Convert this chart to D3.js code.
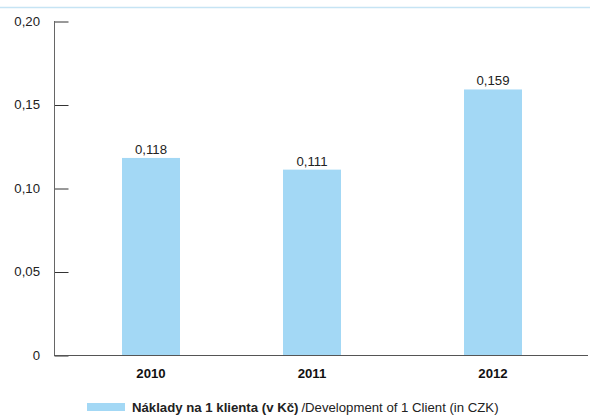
<!DOCTYPE html>
<html>
<head>
<meta charset="utf-8">
<script src="https://cdn.jsdelivr.net/npm/d3@7"></script>
<style>
  html, body { margin: 0; padding: 0; background: #fff; }
  svg { display: block; }
  svg text { font-family: "Liberation Sans", Arial, Helvetica, sans-serif; }
</style>
</head>
<body>
<svg id="chart" width="590" height="416"></svg>
<script>
// Cost per client by year
const years = ["2010", "2011", "2012"];
const costs = [0.118, 0.111, 0.159];
const yTicks = [0, 0.05, 0.10, 0.15, 0.20];
const legendBold = "Náklady na 1 klienta (v Kč)";
const legendNormal = "/Development of 1 Client (in CZK)";

const barColor = "#a3d8f5";
const fontSize = 13.2;
const svg = d3.select("#chart");
const fmt = v => v === 0 ? "0" : d3.format(".2f")(v).replace(".", ",");
const fmtVal = v => d3.format(".3f")(v).replace(".", ",");

// top rule
svg.append("line")
  .attr("x1", 0).attr("x2", 590).attr("y1", 7.5).attr("y2", 7.5)
  .attr("stroke", "#c6e4f4").attr("stroke-width", 1.5);

const y = d3.scaleLinear().domain([0, 0.20]).range([355, 21]);
// year columns sit at uneven spacing; piecewise scale gives each bar centre
const x = d3.scaleLinear().domain([2010, 2011, 2012]).range([151, 312, 493]);
const barW = 58;

// y axis: ticks drawn inward
const yAxis = svg.append("g").attr("transform", "translate(54.5,0.5)")
  .call(d3.axisRight(y).tickValues(yTicks).tickSize(14).tickFormat(""));
yAxis.select(".domain").remove();
yAxis.selectAll(".tick line").attr("stroke", "#333");
svg.append("line").attr("x1", 54.5).attr("x2", 54.5).attr("y1", 21).attr("y2", 355.5)
  .attr("stroke", "#666").attr("stroke-width", 1);

svg.append("g").selectAll("text").data(yTicks).join("text")
  .attr("x", 40).attr("y", d => y(d) + 4.5)
  .attr("text-anchor", "end").attr("font-size", fontSize).attr("fill", "#222")
  .text(fmt);

// bars
svg.append("g").selectAll("rect").data(costs).join("rect")
  .attr("x", (d, i) => x(+years[i]) - barW / 2)
  .attr("y", d => y(d))
  .attr("width", barW)
  .attr("height", d => y(0) - y(d))
  .attr("fill", barColor);

// value labels
svg.append("g").selectAll("text").data(costs).join("text")
  .attr("x", (d, i) => x(+years[i]))
  .attr("y", d => y(d) - 4)
  .attr("text-anchor", "middle").attr("font-size", fontSize).attr("fill", "#222")
  .text(fmtVal);

// x baseline
svg.append("line").attr("x1", 54).attr("x2", 588).attr("y1", 355.5).attr("y2", 355.5)
  .attr("stroke", "#555").attr("stroke-width", 1);

// x labels
svg.append("g").selectAll("text").data(years).join("text")
  .attr("x", d => x(+d)).attr("y", 378)
  .attr("text-anchor", "middle").attr("font-size", fontSize)
  .attr("font-weight", "bold").attr("fill", "#111")
  .text(d => d);

// legend
svg.append("rect").attr("x", 87).attr("y", 403).attr("width", 38).attr("height", 8)
  .attr("fill", barColor);
const lt = svg.append("text").attr("x", 132).attr("y", 412)
  .attr("font-size", fontSize).attr("fill", "#222");
lt.append("tspan").attr("font-weight", "bold").text(legendBold);
lt.append("tspan").attr("dx", 3).text(legendNormal);
</script>
</body>
</html>
